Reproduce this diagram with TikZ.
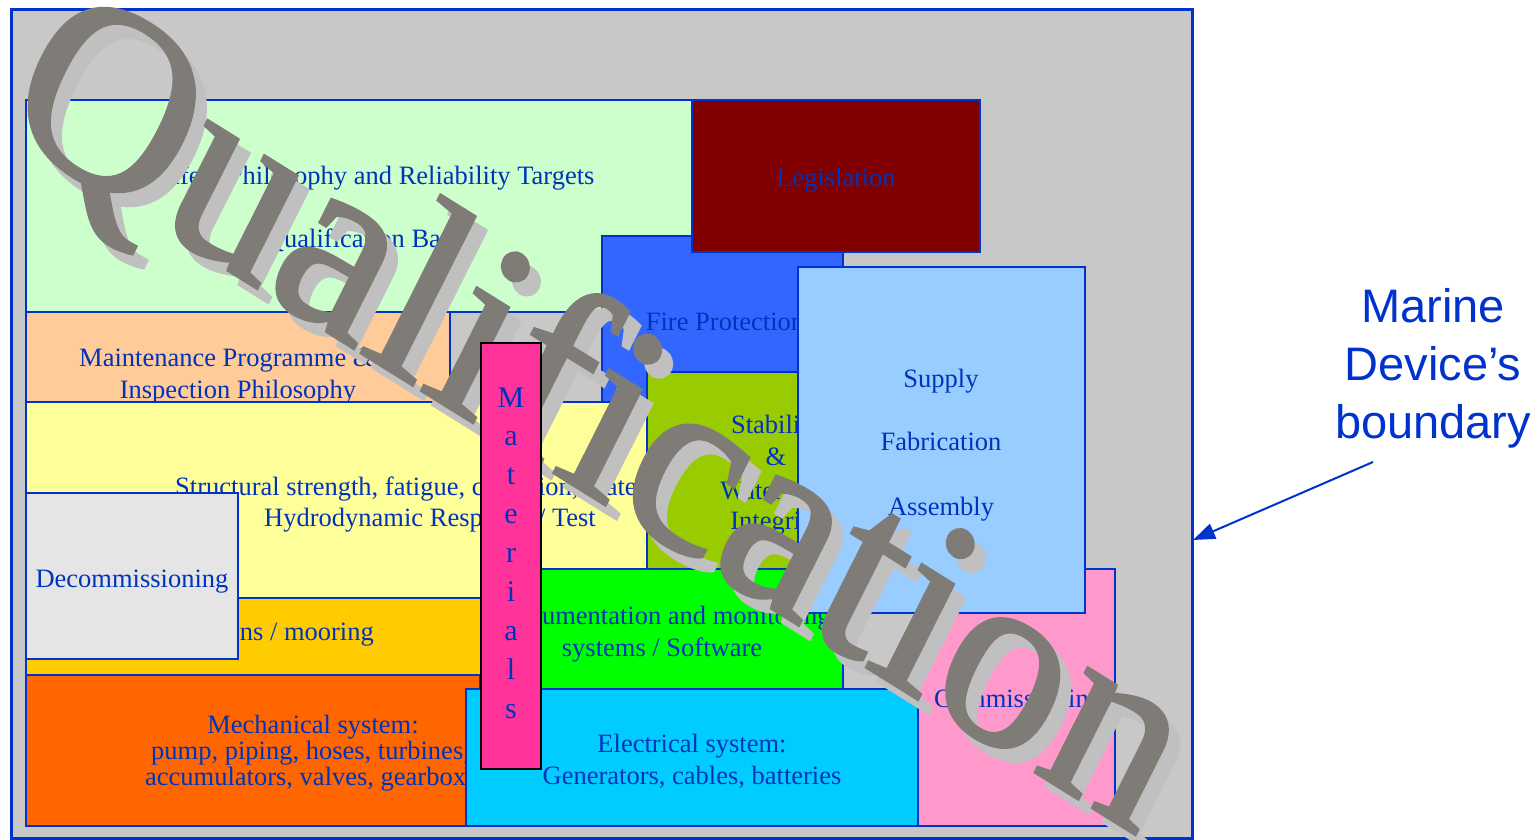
\documentclass[tikz,border=0pt]{standalone}
\usepackage{fontspec}
\setmainfont{Liberation Serif}
\newfontfamily\labelfont{Liberation Sans}
\newfontfamily\wafont{Liberation Serif}[FakeBold=1.2]
\usetikzlibrary{arrows.meta}
\definecolor{bord}{RGB}{0,51,204}
\definecolor{txtblue}{RGB}{0,51,187}
\definecolor{bggray}{RGB}{200,200,200}
\definecolor{cgreen}{RGB}{204,255,204}
\definecolor{cleg}{RGB}{128,0,0}
\definecolor{cfire}{RGB}{51,102,255}
\definecolor{clblue}{RGB}{153,204,255}
\definecolor{cstab}{RGB}{153,204,0}
\definecolor{cmaint}{RGB}{255,204,153}
\definecolor{cyell}{RGB}{255,255,153}
\definecolor{cmoor}{RGB}{255,204,0}
\definecolor{cdecom}{RGB}{229,229,229}
\definecolor{cmech}{RGB}{255,102,0}
\definecolor{cinst}{RGB}{0,255,0}
\definecolor{celec}{RGB}{0,204,255}
\definecolor{ccomm}{RGB}{255,153,204}
\definecolor{cmat}{RGB}{255,51,153}
\definecolor{qgray}{RGB}{127,123,119}
\definecolor{qshade}{RGB}{192,192,192}
\begin{document}
\begin{tikzpicture}[x=1pt,y=-1pt,
  area/.style={draw=bord,line width=2pt},
  lbl/.style={text=txtblue,inner sep=0pt,font=\fontsize{26.5}{32}\selectfont,anchor=base},
  lblw/.style={lbl,anchor=base west},
  matl/.style={text=txtblue,inner sep=0pt,font=\fontsize{30}{36}\selectfont,anchor=base},
  wordart/.style={transform shape,anchor=base west,inner sep=0pt,font=\wafont\fontsize{255}{255}\selectfont},
  waframe/.style={cm={0.849,-0.528,0.449,0.893,(0,0)}}]
\useasboundingbox (0,0) rectangle (1540,840);
\fill[white] (0,0) rectangle (1540,840);
% device boundary
\draw[fill=bggray,draw=bord,line width=3pt] (11.5,10) rectangle (1192,838);
% safety philosophy
\draw[area,fill=cgreen] (26,100) rectangle (723,312);
\node[lbl] (safety) at (374,184) {Safety Philosophy and Reliability Targets};
\node[lbl] (qbasis) at (367,247) {Qualification Basis};
% fire protection
\draw[area,fill=cfire] (602,236) rectangle (843,403);
\node[lbl] (fire) at (725,330) {Fire Protection};
% legislation
\draw[area,fill=cleg] (692,100) rectangle (980,252);
\node[lbl] (legis) at (836,186) {Legislation};
% maintenance
\draw[area,fill=cmaint] (26,312) rectangle (450,402);
\node[lblw] (maint1) at (79,366) {Maintenance Programme \&};
\node[lbl] (maint2) at (238,398) {Inspection Philosophy};
% structural
\draw[area,fill=cyell] (26,402) rectangle (647,598);
\node[lblw] (struct1) at (175,495) {Structural strength, fatigue, corrosion, materials};
\node[lbl] (struct2) at (430,526) {Hydrodynamic Response / Test};
% stability
\draw[area,fill=cstab] (647,372) rectangle (903,569);
\node[lbl] (stab1) at (776,433) {Stability};
\node[lbl] (stab2) at (776,465) {\&};
\node[lbl] (stab3) at (776,499) {Watertight};
\node[lbl] (stab4) at (776,529) {Integrity};
% commissioning
\draw[area,fill=ccomm] (918,569) rectangle (1115,826);
\node[lblw] (comm) at (934,707) {Commissioning};
% mooring
\draw[area,fill=cmoor] (26,598) rectangle (490,675);
\node[lbl,anchor=base east] (moor) at (374,640) {Foundations / mooring};
% decommissioning
\draw[area,fill=cdecom] (26,493) rectangle (238,659);
\node[lbl] (decom) at (132,587) {Decommissioning};
% mechanical
\draw[area,fill=cmech] (26,675) rectangle (480,826);
\node[lbl] (mech1) at (313,733) {Mechanical system:};
\node[lblw] (mech2) at (151,759) {pump, piping, hoses, turbines,};
\node[lblw] (mech3) at (145,785) {accumulators, valves, gearbox};
% instrumentation
\draw[area,fill=cinst] (490,569) rectangle (843,689);
\node[lbl] (inst1) at (662,624) {Instrumentation and monitoring};
\node[lbl] (inst2) at (662,656) {systems / Software};
% electrical
\draw[area,fill=celec] (466,689) rectangle (918,826);
\node[lbl] (elec1) at (692,752) {Electrical system:};
\node[lbl] (elec2) at (692,784) {Generators, cables, batteries};
% supply
\draw[area,fill=clblue] (798,267) rectangle (1085,613);
\node[lbl] (supply) at (941,387) {Supply};
\node[lbl] (fab) at (941,450) {Fabrication};
\node[lbl] (assem) at (941,515) {Assembly};
% word art
\begin{scope}[shift={(7,140)},waframe]
  \node[wordart,text=qshade] (qshadow) at (0,0) {Qualification};
\end{scope}
\begin{scope}[shift={(-4,126)},waframe]
  \node[wordart,text=qgray] (qmain) at (0,0) {Qualification};
\end{scope}
% materials (above the word art)
\draw[draw=black,line width=2pt,fill=cmat] (481,343) rectangle (541,769);
\foreach \ch [count=\i from 0] in {M,a,t,e,r,i,a,l,s}
  \node[matl] (mat\i) at (511,{407+38.9*\i}) {\ch};
% boundary label
\node[text=bord,font=\labelfont\fontsize{47}{58}\selectfont,align=center,inner sep=0pt] (mdb) at (1433,368) {Marine\\Device’s\\boundary};
\coordinate (atail) at (1373,462);
\coordinate (ahead) at (1193,540);
\draw[bord,line width=2pt,-{Triangle[length=22pt,width=16pt]}] (atail) -- (ahead);
\end{tikzpicture}
\end{document}
